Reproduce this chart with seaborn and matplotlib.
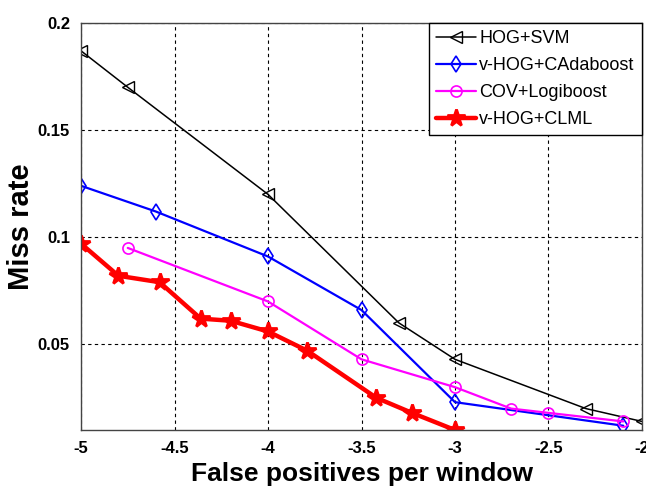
import matplotlib
matplotlib.use("Agg")
import matplotlib.pyplot as plt
import seaborn as sns
import pandas as pd

# Miss rate vs. false positives per window (log10 FPPW)
hog_svm_x = [-5.0, -4.75, -4.0, -3.3, -3.0, -2.3, -2.0]
hog_svm_y = [0.187, 0.170, 0.120, 0.060, 0.043, 0.020, 0.014]

vhog_cada_x = [-5.0, -4.6, -4.0, -3.5, -3.0, -2.1]
vhog_cada_y = [0.124, 0.112, 0.091, 0.066, 0.023, 0.012]

cov_logi_x = [-4.75, -4.0, -3.5, -3.0, -2.7, -2.5, -2.1]
cov_logi_y = [0.095, 0.070, 0.043, 0.030, 0.020, 0.018, 0.014]

vhog_clml_x = [-5.0, -4.8, -4.58, -4.36, -4.2, -4.0, -3.79, -3.42, -3.23, -3.0]
vhog_clml_y = [0.097, 0.082, 0.079, 0.062, 0.061, 0.056, 0.047, 0.025, 0.018, 0.010]

labels = ["HOG+SVM", "v-HOG+CAdaboost", "COV+Logiboost", "v-HOG+CLML"]
xticks = [-5, -4.5, -4, -3.5, -3, -2.5, -2]
xtick_labels = ["-5", "-4.5", "-4", "-3.5", "-3", "-2.5", "-2"]
yticks = [0.05, 0.1, 0.15, 0.2]
ytick_labels = ["0.05", "0.1", "0.15", "0.2"]

sns.set_theme(style="white")
plt.rcParams["font.family"] = ["Liberation Sans", "DejaVu Sans"]
plt.rcParams["text.color"] = "black"
plt.rcParams["axes.labelcolor"] = "black"
plt.rcParams["xtick.color"] = "black"
plt.rcParams["ytick.color"] = "black"

fig = plt.figure(figsize=(6.46, 4.86), dpi=100)
ax = fig.add_axes([0.1254, 0.1152, 0.8684, 0.8375])

series = [
    (hog_svm_x, hog_svm_y, dict(color="black", lw=1.1, marker="<", ms=8, mfc="none", mew=1.0)),
    (vhog_cada_x, vhog_cada_y, dict(color="#0000ff", lw=1.6, marker="d", ms=8, mfc="none", mew=1.2)),
    (cov_logi_x, cov_logi_y, dict(color="#ff00ff", lw=1.6, marker="o", ms=8, mfc="none", mew=1.2)),
    (vhog_clml_x, vhog_clml_y, dict(color="#ff0000", lw=3.2, marker="*", ms=13, mew=2.0)),
]

for (xs, ys, style), lab in zip(series, labels):
    df = pd.DataFrame({"fppw": xs, "miss": ys})
    sns.lineplot(data=df, x="fppw", y="miss", sort=False, ax=ax, label=lab,
                 color=style["color"], linewidth=style["lw"], marker=style["marker"],
                 markersize=style["ms"], markerfacecolor=style.get("mfc", style["color"]),
                 markeredgecolor=style["color"], markeredgewidth=style["mew"])

ax.set_xlim(-5, -2)
ax.set_ylim(0.01, 0.2)
ax.set_xticks(xticks)
ax.set_xticklabels(xtick_labels, fontsize=12, fontweight="bold")
ax.set_yticks(yticks)
ax.set_yticklabels(ytick_labels, fontsize=12, fontweight="bold")
ax.tick_params(axis="both", which="both", length=3, direction="in", pad=8, colors="black")

ax.grid(True, color="black", linestyle=(0, (3, 3)), linewidth=0.8)
for s in ax.spines.values():
    s.set_color("#444444")
    s.set_linewidth(1.0)

ax.set_xlabel("False positives per window", fontsize=19, fontweight="bold", labelpad=4)
ax.set_ylabel("Miss rate", fontsize=21, fontweight="bold", labelpad=2)

leg = ax.legend(loc="upper right", fontsize=13, frameon=True, fancybox=False,
                borderaxespad=0, handlelength=2.2, handletextpad=0.2,
                labelspacing=0.55, borderpad=0.4)
leg.get_frame().set_edgecolor("black")
leg.get_frame().set_linewidth(1.0)
leg.get_frame().set_alpha(1.0)

fig.savefig("out.png", dpi=100)
